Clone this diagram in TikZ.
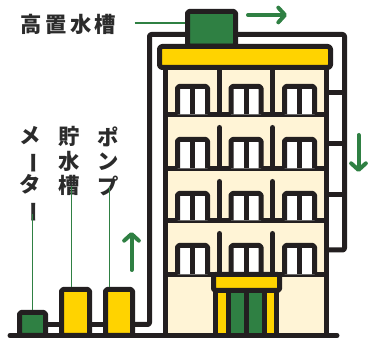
\documentclass[tikz,border=0pt]{standalone}
\usepackage{fontspec}
\usepackage{graphicx}
\usetikzlibrary{arrows.meta}
\newfontfamily\jpfont{Noto Sans CJK JP}
\newcommand{\tatebar}{\rotatebox[origin=c]{-90}{ー}}

\definecolor{inkblack}{HTML}{231F20}
\definecolor{tankgreen}{HTML}{2F8043}
\definecolor{roofyellow}{HTML}{FFD300}
\definecolor{wallcream}{HTML}{FFF4D6}
\definecolor{labelgray}{HTML}{2B2B2B}

\tikzset{every picture/.style={line width=0.75pt}}
\tikzset{
  outline/.style={draw=inkblack, line width=3.75pt, line join=round},
  pipeline/.style={draw=inkblack, line width=3.75pt, line join=round, rounded corners=1.5pt},
  window/.style={outline, fill=white, rounded corners=1.2pt},
  unit/.style={outline, rounded corners=1.2pt, inner sep=0pt, outer sep=0pt},
  leader/.style={draw=tankgreen, line width=1.1pt, shorten >=1.9pt},
  flow/.style={draw=tankgreen, line width=3pt, line cap=round,
    -{Straight Barb[length=5pt,width=11pt,line cap=round,line join=round]}},
  vlabel/.style={text=labelgray, inner sep=0pt, align=center,
    font=\jpfont\bfseries\fontsize{16}{18.4}\selectfont},
  hlabel/.style={text=labelgray, inner sep=0pt,
    font=\jpfont\bfseries\fontsize{16}{18}\selectfont}
}

\begin{document}
\begin{tikzpicture}[x=0.75pt,y=0.75pt,yscale=-1,xscale=1]
	\useasboundingbox (0,0) rectangle (372,338);
	
	%Shape: Rectangle - roof tank
	\node[unit, fill=tankgreen, minimum width=36pt, minimum height=25.9pt] (hightank) at (211.5,28.75) {};
	%Shape: Rectangle - building body
	\draw[outline, fill=wallcream] (165.5,67.5) rectangle (326.5,335.5);
	%Shape: Rectangle - roof
	\draw[outline, fill=roofyellow, rounded corners=2pt] (159.5,46.5) rectangle (330.5,67.5);
	
	%Straight Lines - floors
	\draw[outline] (165.5,114.5) -- (326.5,114.5);
	\draw[outline] (165.5,168.5) -- (326.5,168.5);
	\draw[outline] (165.5,220.5) -- (326.5,220.5);
	\draw[outline] (165.5,274.5) -- (326.5,274.5);
	%Straight Lines - top floor partitions
	\draw[outline] (219.5,67.5) -- (219.5,114.5);
	\draw[outline] (272.5,67.5) -- (272.5,114.5);
	%Straight Lines - partitions below
	\draw[outline, line cap=round] (219.5,127.5) -- (219.5,168.5);
	\draw[outline, line cap=round] (272.5,127.5) -- (272.5,168.5);
	\draw[outline, line cap=round] (219.5,181.5) -- (219.5,220.5);
	\draw[outline, line cap=round] (272.5,181.5) -- (272.5,220.5);
	\draw[outline, line cap=round] (219.5,233.5) -- (219.5,274.5);
	\draw[outline, line cap=round] (272.5,233.5) -- (272.5,274.5);
	
	%Shape: Windows - floor 4
	\draw[window] (177.5,114.5) -- (177.5,86.5) -- (207.5,86.5) -- (207.5,114.5);
	\draw[outline] (192.5,86.5) -- (192.5,114.5);
	\draw[window] (231,114.5) -- (231,86.5) -- (261,86.5) -- (261,114.5);
	\draw[outline] (246,86.5) -- (246,114.5);
	\draw[window] (284.5,114.5) -- (284.5,86.5) -- (314.5,86.5) -- (314.5,114.5);
	\draw[outline] (299.5,86.5) -- (299.5,114.5);
	%Shape: Windows - floor 3
	\draw[window] (177.5,168.5) -- (177.5,139.5) -- (207.5,139.5) -- (207.5,168.5);
	\draw[outline] (192.5,139.5) -- (192.5,168.5);
	\draw[window] (231,168.5) -- (231,139.5) -- (261,139.5) -- (261,168.5);
	\draw[outline] (246,139.5) -- (246,168.5);
	\draw[window] (284.5,168.5) -- (284.5,139.5) -- (314.5,139.5) -- (314.5,168.5);
	\draw[outline] (299.5,139.5) -- (299.5,168.5);
	%Shape: Windows - floor 2
	\draw[window] (177.5,220.5) -- (177.5,193.5) -- (207.5,193.5) -- (207.5,220.5);
	\draw[outline] (192.5,193.5) -- (192.5,220.5);
	\draw[window] (231,220.5) -- (231,193.5) -- (261,193.5) -- (261,220.5);
	\draw[outline] (246,193.5) -- (246,220.5);
	\draw[window] (284.5,220.5) -- (284.5,193.5) -- (314.5,193.5) -- (314.5,220.5);
	\draw[outline] (299.5,193.5) -- (299.5,220.5);
	%Shape: Windows - floor 1
	\draw[window] (177.5,274.5) -- (177.5,245.5) -- (207.5,245.5) -- (207.5,274.5);
	\draw[outline] (192.5,245.5) -- (192.5,274.5);
	\draw[window] (231,274.5) -- (231,245.5) -- (261,245.5) -- (261,274.5);
	\draw[outline] (246,245.5) -- (246,274.5);
	\draw[window] (284.5,274.5) -- (284.5,245.5) -- (314.5,245.5) -- (314.5,274.5);
	\draw[outline] (299.5,245.5) -- (299.5,274.5);
	
	%Shape: Entrance canopy and doors
	\fill[roofyellow] (215.5,290.5) rectangle (276.5,335.5);
	\fill[tankgreen] (228,290.5) rectangle (264,335.5);
	\draw[outline] (215.5,290.5) -- (215.5,335.5);
	\draw[outline] (228,290.5) -- (228,335.5);
	\draw[outline] (246,290.5) -- (246,335.5);
	\draw[outline] (264,290.5) -- (264,335.5);
	\draw[outline] (276.5,290.5) -- (276.5,335.5);
	\draw[outline, fill=roofyellow, rounded corners=1.2pt] (213.5,274.5) rectangle (279.5,290.5);
	
	%Shape: Rectangles - ground units
	\node[unit, fill=tankgreen, minimum width=19.5pt, minimum height=17.25pt] (meter) at (32.5,324) {};
	\node[unit, fill=roofyellow, minimum width=21pt, minimum height=34.5pt] (storage) at (75.5,312.5) {};
	\node[unit, fill=roofyellow, minimum width=20.25pt, minimum height=34.5pt] (pump) at (119,312.5) {};
	
	%Straight Lines - supply pipes
	\coordinate (lowpipe) at (149.5,324.5);
	\coordinate (toppipe) at (149.5,34.5);
	\draw[pipeline] (meter.east |- lowpipe) -- (storage.west |- lowpipe);
	\draw[pipeline] (storage.east |- lowpipe) -- (pump.west |- lowpipe);
	\draw[pipeline] (pump.east |- lowpipe) -- (lowpipe) -- (toppipe) -- (hightank.west |- toppipe);
	\draw[pipeline] (hightank.east |- toppipe) -- (344.5,34.5) -- (344.5,250) -- (326.5,250);
	\draw[pipeline] (326.5,92.5) -- (344.5,92.5);
	\draw[pipeline] (326.5,143.5) -- (344.5,143.5);
	\draw[pipeline] (326.5,195) -- (344.5,195);
	
	%Straight Lines - ground
	\draw[outline, line cap=round] (10,335.5) -- (337,335.5);
	
	%Labels
	\node[hlabel] (lblhigh) at (68.5,24) {高\hspace{2.5pt}置\hspace{2.5pt}水\hspace{2.5pt}槽};
	\node[vlabel, anchor=north] (lblmeter) at (30.5,126) {メ\\\tatebar\\タ\\\tatebar};
	\node[vlabel, anchor=north] (lblstorage) at (69,126) {貯\\水\\槽};
	\node[vlabel, anchor=north] (lblpump) at (108,126) {ポ\\ン\\プ};
	
	%Straight Lines - leaders
	\draw[leader] ([xshift=13.5pt]lblhigh.east |- 0,23) -- (hightank.west |- 0,23);
	\draw[leader] ([yshift=-7pt]lblmeter.south -| 32.5,0) -- (meter.north -| 32.5,0);
	\draw[leader] ([yshift=-8pt]lblstorage.south -| 71.5,0) -- (storage.north -| 71.5,0);
	\draw[leader] ([yshift=-7pt]lblpump.south -| 109.5,0) -- (pump.north -| 109.5,0);
	
	%Straight Lines - flow arrows
	\draw[flow] (248,15) -- (287,15);
	\draw[flow] (131.5,270) -- (131.5,232);
	\draw[flow] (358.5,135) -- (358.5,172);
	
\end{tikzpicture}
\end{document}
